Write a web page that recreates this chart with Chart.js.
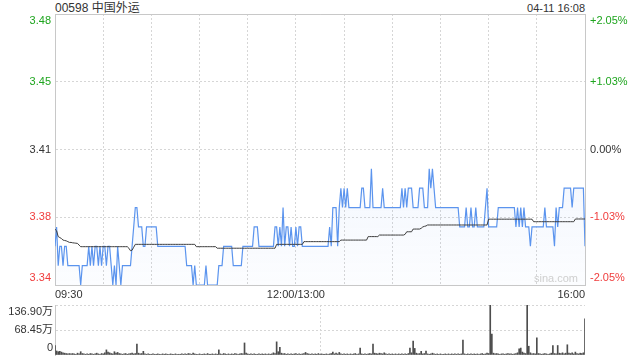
<!DOCTYPE html>
<html>
<head>
<meta charset="utf-8">
<script src="https://cdn.jsdelivr.net/npm/chart.js@4"></script>
<style>
  body { margin:0; background:#fff; width:640px; height:360px; position:relative; overflow:hidden;
         font-family: Arial, "Liberation Sans", "Noto Sans CJK SC", sans-serif; }
  .box { position:absolute; left:0; width:640px; }
  #priceBox { top:0; height:300px; }
  #volBox { top:300px; height:60px; }
  .txt { position:absolute; color:#333; white-space:nowrap; }
  #title { left:55px; top:1px; font-size:12px; line-height:14px; }
  #stamp { right:55px; top:1px; font-size:11px; line-height:14px; }
  #mark { left:534px; top:272px; font-size:11px; line-height:13px; color:#cfcfcf; }
</style>
</head>
<body>
<div id="title" class="txt">00598 中国外运</div>
<div id="stamp" class="txt">04-11 16:08</div>
<div class="box" id="priceBox"><canvas id="priceChart"></canvas></div>
<div id="mark" class="txt">sina.com</div>
<div class="box" id="volBox"><canvas id="volChart"></canvas></div>
<script>
// one value per minute, 09:30 -> 16:00 (lunch break removed)
const price = [
  3.36,3.37,3.35,3.36,3.36,3.35,3.36,3.36,3.35,3.35,
  3.35,3.35,3.35,3.35,3.35,3.35,3.34,3.35,3.35,3.35,
  3.35,3.36,3.35,3.36,3.35,3.36,3.36,3.35,3.36,3.35,
  3.36,3.36,3.35,3.36,3.36,3.35,3.34,3.35,3.34,3.36,
  3.35,3.34,3.35,3.35,3.35,3.35,3.35,3.35,3.36,3.37,
  3.38,3.38,3.37,3.37,3.37,3.36,3.36,3.37,3.37,3.37,
  3.37,3.37,3.37,3.37,3.36,3.36,3.36,3.36,3.36,3.36,
  3.36,3.36,3.36,3.36,3.36,3.36,3.36,3.36,3.36,3.36,
  3.36,3.36,3.35,3.35,3.35,3.35,3.34,3.35,3.34,3.34,
  3.34,3.34,3.34,3.34,3.35,3.34,3.34,3.34,3.34,3.34,
  3.34,3.34,3.35,3.35,3.35,3.36,3.36,3.36,3.36,3.36,
  3.36,3.35,3.35,3.35,3.35,3.35,3.35,3.36,3.36,3.36,
  3.36,3.36,3.36,3.36,3.37,3.37,3.37,3.36,3.36,3.36,
  3.36,3.36,3.36,3.36,3.36,3.36,3.36,3.37,3.37,3.36,
  3.37,3.36,3.38,3.36,3.37,3.37,3.36,3.37,3.36,3.36,
  3.37,3.36,3.37,3.37,3.36,3.36,3.36,3.36,3.36,3.36,
  3.36,3.36,3.36,3.36,3.36,3.36,3.36,3.36,3.36,3.36,
  3.36,3.37,3.36,3.38,3.38,3.38,3.36,3.38,3.39,3.38,
  3.39,3.38,3.39,3.38,3.38,3.38,3.38,3.38,3.38,3.38,
  3.38,3.39,3.39,3.38,3.38,3.38,3.38,3.40,3.38,3.38,
  3.38,3.38,3.38,3.38,3.39,3.38,3.38,3.38,3.38,3.38,
  3.38,3.38,3.38,3.38,3.38,3.38,3.39,3.38,3.39,3.38,
  3.39,3.39,3.39,3.38,3.38,3.38,3.38,3.39,3.39,3.39,
  3.38,3.38,3.38,3.40,3.39,3.40,3.39,3.38,3.38,3.38,
  3.38,3.38,3.38,3.38,3.38,3.38,3.38,3.38,3.38,3.38,
  3.38,3.38,3.37,3.37,3.37,3.37,3.38,3.37,3.37,3.38,
  3.37,3.37,3.38,3.37,3.37,3.37,3.37,3.37,3.38,3.39,
  3.37,3.37,3.37,3.37,3.37,3.37,3.38,3.38,3.38,3.38,
  3.38,3.38,3.38,3.38,3.38,3.38,3.38,3.37,3.38,3.37,
  3.38,3.37,3.38,3.37,3.37,3.37,3.36,3.37,3.37,3.37,
  3.37,3.37,3.37,3.37,3.37,3.38,3.37,3.37,3.37,3.37,
  3.37,3.36,3.38,3.37,3.38,3.38,3.38,3.39,3.39,3.39,
  3.39,3.39,3.38,3.39,3.39,3.39,3.39,3.39,3.39,3.39,
  3.36
];
const avgPrice = [
  3.3688,3.368,3.365,3.3645,3.364,3.3632,3.363,3.3628,3.3624,3.362,
  3.362,3.3618,3.3617,3.3616,3.3615,3.3606,3.3598,3.3598,3.3598,3.3598,
  3.3598,3.3598,3.3598,3.3598,3.3598,3.3598,3.3598,3.3598,3.3598,3.3598,
  3.3598,3.3598,3.3598,3.3598,3.3598,3.3598,3.3598,3.3598,3.3598,3.3598,
  3.3598,3.3598,3.3598,3.3598,3.3598,3.3598,3.359,3.3577,3.358,3.3595,
  3.361,3.361,3.361,3.361,3.361,3.361,3.361,3.361,3.361,3.361,
  3.361,3.361,3.361,3.361,3.361,3.361,3.361,3.361,3.361,3.361,
  3.361,3.361,3.361,3.361,3.361,3.361,3.361,3.361,3.361,3.361,
  3.361,3.361,3.361,3.361,3.361,3.361,3.361,3.361,3.3598,3.3598,
  3.3598,3.3598,3.3598,3.3598,3.3598,3.3598,3.3598,3.3598,3.3598,3.3598,
  3.3598,3.359,3.359,3.359,3.359,3.359,3.359,3.359,3.359,3.359,
  3.359,3.359,3.359,3.359,3.359,3.359,3.359,3.359,3.359,3.359,
  3.359,3.359,3.359,3.359,3.359,3.359,3.359,3.359,3.359,3.359,
  3.359,3.359,3.359,3.359,3.359,3.359,3.359,3.359,3.361,3.361,
  3.361,3.361,3.361,3.361,3.361,3.361,3.361,3.361,3.361,3.361,
  3.361,3.361,3.361,3.361,3.361,3.3624,3.3624,3.3624,3.3624,3.3624,
  3.3624,3.3624,3.3624,3.3624,3.3624,3.3624,3.3624,3.3624,3.3624,3.3624,
  3.3624,3.3624,3.3624,3.3624,3.3624,3.3624,3.3624,3.3624,3.3632,3.3632,
  3.3632,3.3632,3.3632,3.3632,3.3632,3.3632,3.3632,3.3632,3.3632,3.3632,
  3.3632,3.3632,3.3632,3.3632,3.3632,3.365,3.365,3.365,3.365,3.365,
  3.365,3.365,3.3658,3.3658,3.3658,3.3658,3.3658,3.3658,3.3658,3.3658,
  3.3658,3.3658,3.3658,3.3658,3.3658,3.3658,3.3658,3.3658,3.3662,3.3675,
  3.3675,3.3675,3.3675,3.3689,3.3689,3.3689,3.3689,3.3689,3.3693,3.37,
  3.3703,3.3705,3.371,3.371,3.371,3.371,3.371,3.371,3.371,3.371,
  3.371,3.371,3.371,3.371,3.371,3.371,3.371,3.371,3.371,3.371,
  3.371,3.371,3.371,3.371,3.371,3.371,3.371,3.371,3.371,3.371,
  3.371,3.371,3.371,3.371,3.371,3.371,3.371,3.371,3.371,3.371,
  3.374,3.374,3.374,3.374,3.374,3.374,3.374,3.374,3.374,3.374,
  3.374,3.374,3.374,3.374,3.374,3.374,3.374,3.374,3.374,3.374,
  3.374,3.374,3.374,3.374,3.374,3.374,3.374,3.374,3.3727,3.3727,
  3.3727,3.3727,3.3727,3.3727,3.3727,3.3727,3.3727,3.3727,3.3727,3.3727,
  3.3727,3.3727,3.3727,3.3727,3.3727,3.3727,3.3727,3.3727,3.3727,3.3727,
  3.3727,3.3727,3.3727,3.3727,3.3741,3.3741,3.3741,3.3741,3.3741,3.3741,
  3.3741
];
// volume in 万 shares
const volume = [
  26,11,9,10,8,6,5,4,3,4,
  3,4,3,2,5,3,9,4,3,2,
  3,2,4,3,2,3,5,3,2,4,
  3,6,14,8,6,4,3,9,5,7,
  4,3,2,3,4,2,3,4,5,3,
  4,30,5,3,4,10,3,2,3,2,
  2,3,2,2,3,2,2,3,2,3,
  2,2,3,2,2,3,2,2,2,3,
  2,3,2,4,3,2,5,3,2,2,
  3,2,2,3,2,4,2,2,3,2,
  3,2,14,3,2,4,3,2,3,2,
  3,2,4,3,2,3,4,3,33,5,
  3,2,3,2,3,2,2,3,2,3,
  2,3,2,3,2,3,6,4,36,9,
  21,5,3,4,2,3,2,3,2,3,
  4,2,3,2,3,4,7,4,3,2,
  3,2,3,2,4,2,3,2,2,3,
  2,3,4,8,3,5,3,7,3,2,
  3,2,3,2,3,2,3,4,2,3,
  19,3,2,3,2,3,4,3,30,5,
  4,3,5,4,3,6,3,2,3,2,
  3,2,3,2,3,2,3,2,3,2,
  4,19,6,38,18,5,3,4,10,3,
  4,11,3,2,3,5,3,2,3,2,
  3,2,2,3,2,3,2,3,2,3,
  2,3,2,3,41,3,2,3,2,3,
  2,3,2,3,2,3,4,2,3,5,
  4,136.9,57,5,3,4,3,2,3,3,
  2,3,4,3,3,2,3,4,6,17,
  19,8,5,4,136.5,24,6,3,4,3,
  47,4,3,2,3,4,3,2,3,5,
  26,4,3,26,5,4,6,3,5,28,
  5,4,6,3,8,4,3,5,4,6,
  99
];

const yTickValues = [3.34, 3.375, 3.41, 3.445, 3.48];
const priceLabels = ['3.34', '3.38', '3.41', '3.45', '3.48'];
const pctLabels = ['-2.05%', '-1.03%', '0.00%', '+1.03%', '+2.05%'];
const timeTicks = [0, 150, 330];
const timeLabels = ['09:30', '12:00/13:00', '16:00'];
const volTickValues = [0, 68.45, 136.9];
const volLabels = ['0', '68.45万', '136.90万'];

const tickColors = ['#f03c3c', '#f03c3c', '#333333', '#1ea51e', '#1ea51e'];
const gridColor = '#d6d6d6';
const frameColor = '#c8c8c8';

Chart.defaults.font.family = 'Arial, "Liberation Sans", "Noto Sans CJK SC", sans-serif';
Chart.defaults.font.size = 11;

// first/last labels pushed inside the plot, like the original
function edge(labels, i) {
    if (i === labels.length - 1) return ['', labels[i]];
    if (i === 0) return [labels[i], ''];
    return labels[i];
}

// fixed axis sizes, no extra padding from the labels
function fixV(s) {
    s.width = 55;
    s.paddingTop = 0;
    s.paddingBottom = 0;
}
function fixH(h) {
    return (s) => {
        s.height = h;
        s.paddingLeft = 0;
        s.paddingRight = 0;
    };
}

const pricePoints = price.map((v, i) => ({x: i, y: v}));
const avgPoints = avgPrice.map((v, i) => ({x: i, y: v}));
const volPoints = volume.map((v, i) => ({x: i, y: v}));

new Chart(document.getElementById('priceChart'), {
    type: 'line',
    data: {
        datasets: [{
            label: '均价',
            data: avgPoints,
            borderColor: '#3c3c3c',
            borderWidth: 1,
            pointRadius: 0,
            fill: false,
            order: 0
        }, {
            label: '价格',
            data: pricePoints,
            borderColor: '#5b94ee',
            borderWidth: 1.2,
            pointRadius: 0,
            fill: 'start',
            backgroundColor: (ctx) => {
                const a = ctx.chart.chartArea;
                if (!a) return 'rgba(90,145,240,0.08)';
                const g = ctx.chart.ctx.createLinearGradient(0, a.top, 0, a.bottom);
                g.addColorStop(0, 'rgba(90,145,240,0.14)');
                g.addColorStop(1, 'rgba(90,145,240,0.02)');
                return g;
            },
            order: 1
        }]
    },
    options: {
        animation: false,
        responsive: true,
        maintainAspectRatio: false,
        layout: {padding: {top: 14, bottom: 0, left: 0, right: 0}},
        plugins: {legend: {display: false}, tooltip: {enabled: false}},
        scales: {
            x: {
                type: 'linear', min: 0, max: 330, position: 'bottom',
                afterFit: fixH(15),
                grid: {color: gridColor, drawTicks: false},
                border: {color: frameColor, dash: [2, 2]},
                ticks: {
                    stepSize: 30, autoSkip: false, maxRotation: 0, align: 'inner', padding: 3, color: '#333',
                    callback: (v) => { const i = timeTicks.indexOf(v); return i < 0 ? '' : timeLabels[i]; }
                }
            },
            xTop: {
                type: 'linear', min: 0, max: 330, position: 'top',
                afterFit: fixH(0),
                ticks: {display: false},
                grid: {display: false, drawTicks: false},
                border: {color: frameColor}
            },
            y: {
                min: 3.34, max: 3.48, position: 'left',
                afterBuildTicks: (s) => { s.ticks = yTickValues.map(v => ({value: v})) },
                afterFit: fixV,
                grid: {color: gridColor, drawTicks: false},
                border: {color: frameColor, dash: [2, 2]},
                ticks: {autoSkip: false, padding: 4, color: (c) => tickColors[c.index], callback: (v, i) => edge(priceLabels, i)}
            },
            yPct: {
                min: 3.34, max: 3.48, position: 'right',
                afterBuildTicks: (s) => { s.ticks = yTickValues.map(v => ({value: v})) },
                afterFit: fixV,
                grid: {display: false, drawTicks: false},
                border: {color: frameColor},
                ticks: {autoSkip: false, padding: 5, color: (c) => tickColors[c.index], callback: (v, i) => edge(pctLabels, i)}
            }
        }
    }
});

new Chart(document.getElementById('volChart'), {
    type: 'bar',
    data: {
        datasets: [{
            label: '成交量',
            data: volPoints,
            backgroundColor: '#4d4d4d',
            barThickness: 1
        }]
    },
    options: {
        animation: false,
        responsive: true,
        maintainAspectRatio: false,
        layout: {padding: {top: 5, bottom: 5, left: 0, right: 55}},
        plugins: {legend: {display: false}, tooltip: {enabled: false}},
        scales: {
            x: {
                type: 'linear', min: 0, max: 330, offset: false,
                afterBuildTicks: (s) => { s.ticks = [{value: 0}, {value: 330}] },
                afterFit: fixH(0),
                ticks: {display: false, autoSkip: false},
                grid: {color: (c) => c.index === 1 ? gridColor : 'rgba(0,0,0,0)', drawTicks: false},
                border: {display: false, dash: [2, 2]}
            },
            y: {
                min: 0, max: 136.9,
                afterBuildTicks: (s) => { s.ticks = volTickValues.map(v => ({value: v})) },
                afterFit: fixV,
                grid: {color: (c) => c.index === 0 ? 'rgba(0,0,0,0)' : gridColor, drawTicks: false},
                border: {color: frameColor, dash: [2, 2]},
                ticks: {autoSkip: false, padding: 2, color: '#333', callback: (v, i) => edge(volLabels, i)}
            }
        }
    }
});
</script>
</body>
</html>
